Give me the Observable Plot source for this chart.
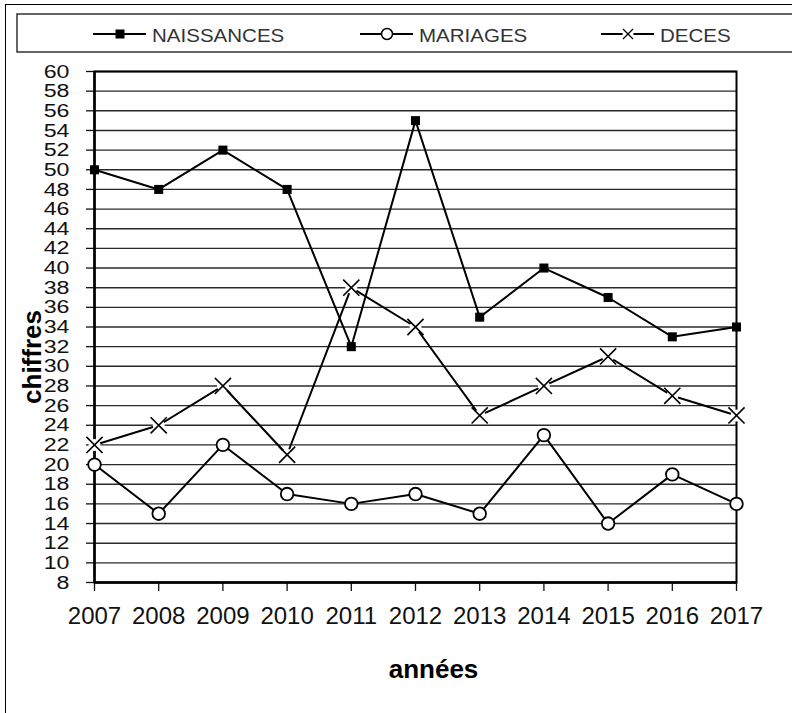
<!DOCTYPE html>
<html><head><meta charset="utf-8">
<script src="https://cdn.jsdelivr.net/npm/d3@7"></script>
<script src="https://cdn.jsdelivr.net/npm/@observablehq/plot@0.6"></script>
<style>
body{margin:0;background:#fff;}
#wrap{position:relative;width:792px;height:713px;overflow:hidden;font-family:"Liberation Sans",Arial,sans-serif;background:#fff;}
#outer{position:absolute;left:5px;top:4px;width:820px;height:740px;border:1.5px solid #000;}
#chart{position:absolute;left:0;top:0;}
#legend{position:absolute;left:0;top:0;}
</style></head><body>
<div id="wrap"><div id="chart"></div><div id="outer"></div><svg id="legend" width="792" height="60"></svg></div>
<script>
const years = [2007, 2008, 2009, 2010, 2011, 2012, 2013, 2014, 2015, 2016, 2017];
const naissances = [50, 48, 52, 48, 32, 55, 35, 40, 37, 33, 34];
const mariages = [20, 15, 22, 17, 16, 17, 15, 23, 14, 19, 16];
const deces = [22, 24, 28, 21, 38, 34, 25, 28, 31, 27, 25];
const seriesNames = ["NAISSANCES", "MARIAGES", "DECES"];
const yTicks = [8, 10, 12, 14, 16, 18, 20, 22, 24, 26, 28, 30, 32, 34, 36, 38, 40, 42, 44, 46, 48, 50, 52, 54, 56, 58, 60];
const xTitle = "années";
const yTitle = "chiffres";

const seriesValues = {NAISSANCES: naissances, MARIAGES: mariages, DECES: deces};
const rows = seriesNames.flatMap(s => years.map((yr, i) => ({series: s, year: yr, value: seriesValues[s][i]})));
const bySeries = s => rows.filter(r => r.series === s);

const font = "Liberation Sans, Arial, sans-serif";
const chart = Plot.plot({
  width: 792, height: 713,
  marginLeft: 94, marginRight: 56, marginTop: 71, marginBottom: 131,
  style: {fontFamily: font, color: "#111", background: "transparent"},
  x: {domain: [2007, 2017]},
  y: {domain: [8, 60]},
  marks: [
    Plot.gridY(yTicks, {stroke: "#2a2a2a", strokeOpacity: 1, strokeWidth: 1.4}),
    Plot.frame({stroke: "#000", strokeWidth: 2}),
    Plot.axisY({ticks: yTicks, tickSize: 8, tickPadding: 17, fontSize: 19, label: null, strokeWidth: 1.3}),
    Plot.axisX({ticks: years, tickSize: 9, tickPadding: 15, fontSize: 24, label: null, tickFormat: d => String(d), strokeWidth: 1.3}),
    Plot.ruleX([2007], {stroke: "#000", strokeWidth: 2.5}),
    Plot.ruleY([8], {stroke: "#000", strokeWidth: 2.5}),
    Plot.line(rows, {x: "year", y: "value", z: "series", stroke: "#000", strokeWidth: 2}),
    Plot.dot(bySeries("NAISSANCES"), {x: "year", y: "value", symbol: "square", r: 5.1, fill: "#000"}),
    Plot.dot(bySeries("MARIAGES"), {x: "year", y: "value", symbol: "circle", r: 6.3, fill: "#fff", stroke: "#000", strokeWidth: 1.8}),
    Plot.dot(bySeries("DECES"), {x: "year", y: "value", symbol: "circle", r: 6, fill: "#fff"}),
    Plot.dot(bySeries("DECES"), {x: "year", y: "value", symbol: "times", r: 7.4, stroke: "#000", strokeWidth: 1.6}),
    Plot.text([yTitle], {text: d => d, frameAnchor: "left", textAnchor: "middle", rotate: -90, dx: -62, dy: 30, fontSize: 26, fontWeight: "bold", fill: "#000", lineAnchor: "middle"}),
    Plot.text([xTitle], {text: d => d, frameAnchor: "bottom", textAnchor: "middle", dx: 18, dy: 87, fontSize: 26, fontWeight: "bold", fill: "#000", lineAnchor: "middle"})
  ]
});
document.getElementById("chart").appendChild(chart);

// horizontally widen y tick labels (narrow-height, wide digits as in the reference)
chart.querySelectorAll('g[aria-label="y-axis tick label"] text').forEach(t => {
  const tr = t.getAttribute("transform");
  if (tr && tr.includes("translate")) {
    t.setAttribute("transform", tr + " scale(1.22,1)");
  } else {
    const x = +t.getAttribute("x") || 0, y = +t.getAttribute("y") || 0;
    t.removeAttribute("x"); t.removeAttribute("y");
    t.setAttribute("transform", `translate(${x},${y}) scale(1.22,1)` + (tr ? " " + tr : ""));
  }
});

// legend
const lg = d3.select("#legend");
lg.append("rect").attr("x", 17).attr("y", 14).attr("width", 800).attr("height", 38)
  .attr("fill", "none").attr("stroke", "#333").attr("stroke-width", 1.5);
const legendStarts = [93, 360, 601];
const symbols = ["square", "circle", "times"];
seriesNames.forEach((name, i) => {
  const x0 = legendStarts[i], cy = 34, cx = x0 + 27;
  const g = lg.append("g");
  g.append("line").attr("x1", x0).attr("x2", x0 + 53).attr("y1", cy).attr("y2", cy).attr("stroke", "#000").attr("stroke-width", 2);
  if (symbols[i] === "square") {
    g.append("rect").attr("x", cx - 4.5).attr("y", cy - 4.5).attr("width", 9).attr("height", 9).attr("fill", "#000");
  } else if (symbols[i] === "circle") {
    g.append("circle").attr("cx", cx).attr("cy", cy).attr("r", 5.5).attr("fill", "#fff").attr("stroke", "#000").attr("stroke-width", 1.5);
  } else {
    g.append("circle").attr("cx", cx).attr("cy", cy).attr("r", 5.5).attr("fill", "#fff");
    g.append("path").attr("d", `M${cx-5},${cy-5}L${cx+5},${cy+5}M${cx-5},${cy+5}L${cx+5},${cy-5}`).attr("stroke", "#000").attr("stroke-width", 1.3);
  }
  g.append("text").attr("transform", `translate(${x0 + 59},${cy + 8}) scale(1.14,1)`)
    .attr("font-size", 18).attr("font-family", font).attr("fill", "#333").text(name);
});
</script>
</body></html>
